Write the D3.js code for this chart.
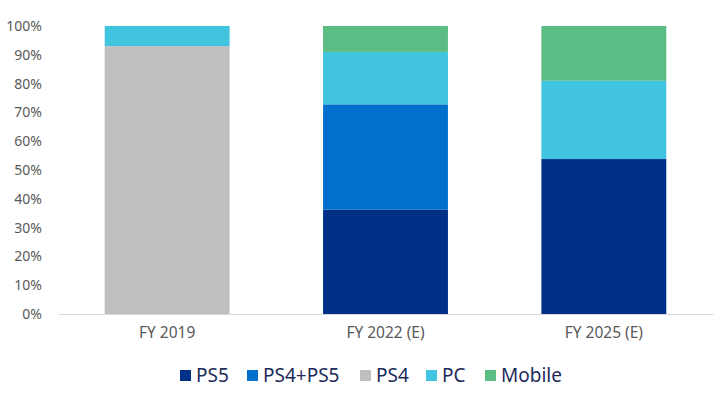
<!DOCTYPE html>
<html><head><meta charset="utf-8">
<script src="https://cdn.jsdelivr.net/npm/d3@7"></script>
<style>body{margin:0;background:#fff;}svg{display:block;font-family:"Noto Sans","Open Sans",sans-serif;}</style>
</head><body><svg id="c" width="720" height="399"></svg>
<script>
const categories = ["FY 2019", "FY 2022 (E)", "FY 2025 (E)"];
const seriesNames = ["PS5", "PS4+PS5", "PS4", "PC", "Mobile"];
const ps5 = [0, 36.3, 53.8];
const ps4ps5 = [0, 36.5, 0];
const ps4 = [93, 0, 0];
const pc = [7, 18.2, 27.2];
const mobile = [0, 9, 19];
const yTicks = [0, 10, 20, 30, 40, 50, 60, 70, 80, 90, 100];
const colors = ["#003087", "#0070cc", "#bfbfbf", "#40c4df", "#5bbd83"];

const rows = categories.map((c, i) => ({cat: c, PS5: ps5[i], "PS4+PS5": ps4ps5[i], PS4: ps4[i], PC: pc[i], Mobile: mobile[i]}));
const stack = d3.stack().keys(seriesNames)(rows);

const svg = d3.select("#c");
const x = d3.scaleBand().domain(categories).range([58, 713]).paddingInner(0.428).paddingOuter(0.214);
const y = d3.scaleLinear().domain([0, 100]).range([314, 26]);
const color = d3.scaleOrdinal().domain(seriesNames).range(colors);

svg.append("g").selectAll("g").data(stack).join("g")
  .attr("fill", d => color(d.key))
  .selectAll("rect").data(d => d).join("rect")
  .attr("x", d => x(d.data.cat))
  .attr("width", x.bandwidth())
  .attr("y", d => y(d[1]))
  .attr("height", d => y(d[0]) - y(d[1]));

// y axis
const ya = svg.append("g").attr("transform", "translate(42,0)")
  .call(d3.axisLeft(y).tickValues(yTicks).tickFormat(d => d + "%").tickSize(0));
ya.select(".domain").remove();
ya.selectAll("text").attr("fill", "#595959").style("font-size", "14px").style("font-family", "'Noto Sans','Open Sans',sans-serif").attr("x", 0);

// x axis
const xa = svg.append("g").attr("transform", "translate(0,314)")
  .call(d3.axisBottom(x).tickSize(0).tickPadding(13));
xa.select(".domain").attr("stroke", "#d9d9d9").attr("stroke-width", 1.2);
xa.selectAll("text").attr("fill", "#595959").style("font-size", "15.5px").style("font-family", "'Noto Sans','Open Sans',sans-serif");

// legend
const legendX = [180, 247, 360, 426, 485];
const lg = svg.append("g").selectAll("g").data(seriesNames).join("g")
  .attr("transform", (d, i) => `translate(${legendX[i]},370)`);
lg.append("rect").attr("width", 11).attr("height", 11).attr("fill", d => color(d));
lg.append("text").attr("x", 16).attr("y", 5.5).attr("dy", "0.35em")
  .attr("fill", "#1c2b5a").style("font-size", "19px").text(d => d);
</script></body></html>
